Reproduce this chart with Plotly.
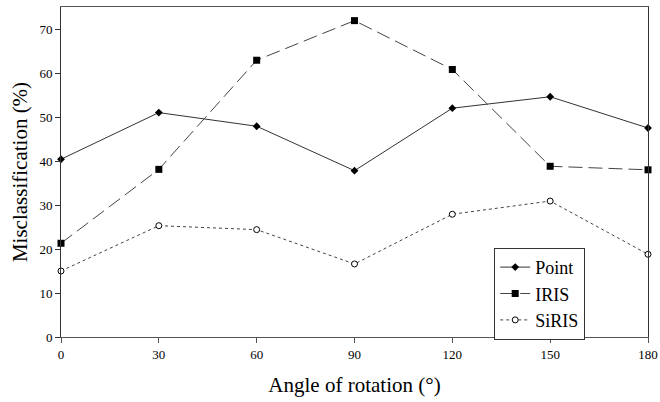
import plotly.graph_objects as go

angles = [0, 30, 60, 90, 120, 150, 180]
point_vals = [40.4, 51.0, 47.9, 37.8, 52.0, 54.6, 47.5]
iris_vals = [21.3, 38.1, 62.9, 71.9, 60.8, 38.8, 38.0]
siris_vals = [15.0, 25.3, 24.4, 16.6, 27.9, 30.9, 18.8]
x_ticks = [0, 30, 60, 90, 120, 150, 180]
y_ticks = [0, 10, 20, 30, 40, 50, 60, 70]

font_family = "Liberation Serif"

fig = go.Figure()
fig.add_trace(go.Scatter(
    x=angles, y=point_vals, name="Point", mode="lines+markers",
    line=dict(color="#333333", width=1, dash="solid"),
    marker=dict(symbol="diamond", size=6, color="black"),
    cliponaxis=False,
))
fig.add_trace(go.Scatter(
    x=angles, y=iris_vals, name="IRIS", mode="lines+markers",
    line=dict(color="#444444", width=1, dash="14px,6px"),
    marker=dict(symbol="square", size=7, color="black"),
    cliponaxis=False,
))
fig.add_trace(go.Scatter(
    x=angles, y=siris_vals, name="SiRIS", mode="lines+markers",
    line=dict(color="#444444", width=1, dash="3px,3px"),
    marker=dict(symbol="circle", size=6, color="white",
                line=dict(color="black", width=1)),
    cliponaxis=False,
))

fig.update_layout(
    width=660, height=402,
    margin=dict(l=61, r=12, t=7, b=65, autoexpand=False),
    plot_bgcolor="white", paper_bgcolor="white",
    font=dict(family=font_family, color="black", size=13),
    showlegend=True,
    legend=dict(
        x=0.738, y=0.27, xanchor="left", yanchor="top",
        bgcolor="white", bordercolor="#333333", borderwidth=1,
        font=dict(family=font_family, size=18, color="black"),
        tracegroupgap=0, itemwidth=30,
    ),
    xaxis=dict(
        range=[0, 180], tickvals=x_ticks, ticktext=[str(v) for v in x_ticks],
        showgrid=False, zeroline=False, automargin=False,
        showline=True, linecolor="#555555", linewidth=1, mirror=True,
        ticks="outside", ticklen=5, tickcolor="#555555",
        tickfont=dict(family=font_family, size=13),
        title=dict(text="Angle of rotation (°)", standoff=16,
                   font=dict(family=font_family, size=21)),
    ),
    yaxis=dict(
        range=[0, 75], tickvals=y_ticks, ticktext=[str(v) for v in y_ticks],
        showgrid=False, zeroline=False, automargin=False,
        showline=True, linecolor="#333333", linewidth=1, mirror=True,
        ticks="outside", ticklen=5, tickcolor="#333333",
        tickfont=dict(family=font_family, size=13),
        title=dict(text="Misclassification (%)", standoff=6,
                   font=dict(family=font_family, size=21)),
    ),
)

fig.write_html(
    "out.html",
    config={"displayModeBar": False},
    post_script="document.body.style.margin='0';document.body.style.overflow='hidden';",
)
